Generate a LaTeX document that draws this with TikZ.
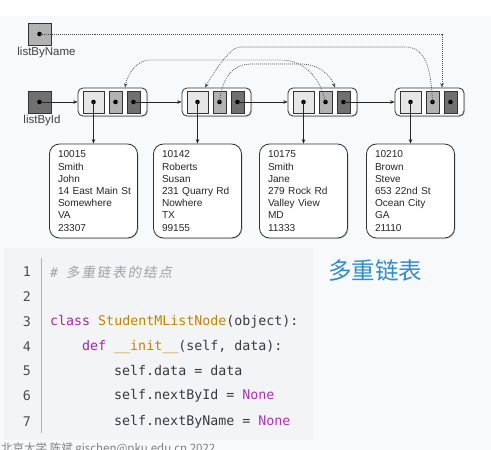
\documentclass[tikz,border=0pt]{standalone}
\usepackage{fontspec}
\setmainfont{Liberation Sans}
\newfontfamily\codefont{DejaVu Sans Mono}
\newfontfamily\cjkfont{Noto Sans CJK SC}
\newfontfamily\cjkslant[FakeSlant=0.18,LetterSpace=14]{Noto Sans CJK SC}
\usetikzlibrary{positioning,arrows.meta,shadows}

\definecolor{slidebg}{RGB}{247,249,250}
\definecolor{codebg}{RGB}{243,244,245}
\definecolor{lightcell}{RGB}{230,230,230}
\definecolor{midcell}{RGB}{178,178,178}
\definecolor{darkcell}{RGB}{112,112,112}
\definecolor{codetxt}{RGB}{56,58,66}
\definecolor{codekw}{RGB}{166,38,164}
\definecolor{codefn}{RGB}{193,132,1}
\definecolor{codecm}{RGB}{160,161,167}
\definecolor{codecst}{RGB}{180,48,180}
\definecolor{titleblue}{RGB}{52,140,202}

\tikzset{
  ptr/.style={-{Stealth[length=4.5pt,width=3.5pt]}, line width=0.5pt, black!85},
  namelink/.style={ptr, dash pattern=on 0.9pt off 1.1pt, black!70, line width=0.7pt},
  listnode/.style={rectangle, rounded corners=5pt, draw=black!80, line width=0.8pt, fill=white,
    minimum width=69pt, minimum height=28pt, inner sep=0pt,
    drop shadow={opacity=0.3, shadow xshift=1pt, shadow yshift=-1pt}},
  datacell/.style={rectangle, draw=black!80, line width=0.7pt, fill=lightcell,
    minimum width=21pt, minimum height=22pt, inner sep=0pt},
  namecell/.style={datacell, fill=midcell, minimum width=13pt},
  idcell/.style={datacell, fill=darkcell, minimum width=13pt},
  headname/.style={datacell, fill=midcell, minimum width=23pt},
  headid/.style={datacell, fill=darkcell, minimum width=23pt},
  databox/.style={rectangle, rounded corners=10pt, draw=black!80, line width=0.8pt, fill=white,
    minimum height=94pt, text width=88pt, inner xsep=0pt, align=left,
    execute at begin node={\leftskip=8.5pt\relax},
    font=\fontsize{10.1}{12.2}\selectfont, text=black!85,
    drop shadow={opacity=0.3, shadow xshift=1pt, shadow yshift=-1pt}},
  lbl/.style={font=\fontsize{11.5}{13}\selectfont, text=black!75, inner sep=0pt},
  codeline/.style={anchor=west, inner sep=0pt, font=\fontsize{13.3}{16}\codefont, text=codetxt},
  lineno/.style={anchor=east, inner sep=0pt, font=\fontsize{13.3}{16}\codefont, text=black!70},
  codesep/.style={black!30, line width=0.8pt},
  title/.style={anchor=west, inner sep=0pt, font=\fontsize{23.5}{28}\cjkfont, text=titleblue},
  footer/.style={anchor=north west, inner sep=0pt, font=\fontsize{11.5}{14}\cjkfont, text=black!50}
}

\begin{document}
\begin{tikzpicture}[x=1pt,y=-1pt]
\useasboundingbox (0,0) rectangle (491,450);

% Vẽ nền
\fill[white] (0,0) rectangle (491,16);
\fill[slidebg] (0,16) rectangle (491,450);
\fill[codebg] (4,248) rectangle (314,440);

% Vẽ hai con trỏ đầu
\node[headname] (lbn) at (39.5,34) {};
\node[lbl, below=2pt of lbn, xshift=7pt] (lbnlbl) {listByName};
\node[headid] (lbi) at (39.5,102) {};
\node[lbl, below=1.5pt of lbi, xshift=2.5pt] (lbilbl) {listById};

% Vẽ các nút của danh sách
\node[listnode] (n1) at (112.5,102) {};
\node[datacell] (n1a) at (93.5,102) {};
\node[namecell] (n1b) at (115.5,102) {};
\node[idcell] (n1c) at (133.5,102) {};

\node[listnode] (n2) at (216.5,102) {};
\node[datacell] (n2a) at (197.5,102) {};
\node[namecell] (n2b) at (219.5,102) {};
\node[idcell] (n2c) at (237.5,102) {};

\node[listnode] (n3) at (322.5,102) {};
\node[datacell] (n3a) at (303.5,102) {};
\node[namecell] (n3b) at (325.5,102) {};
\node[idcell] (n3c) at (343.5,102) {};

\node[listnode] (n4) at (429.5,102) {};
\node[datacell] (n4a) at (410.5,102) {};
\node[namecell] (n4b) at (432.5,102) {};
\node[idcell] (n4c) at (450.5,102) {};

% Vẽ các chấm con trỏ
\fill (lbn.center) circle (2.3pt);
\fill (lbi.center) circle (2.3pt);
\fill (n1a.center) circle (2.3pt); \fill (n1b.center) circle (2.3pt); \fill (n1c.center) circle (2.3pt);
\fill (n2a.center) circle (2.3pt); \fill (n2b.center) circle (2.3pt); \fill (n2c.center) circle (2.3pt);
\fill (n3a.center) circle (2.3pt); \fill (n3b.center) circle (2.3pt); \fill (n3c.center) circle (2.3pt);
\fill (n4a.center) circle (2.3pt); \fill (n4b.center) circle (2.3pt); \fill (n4c.center) circle (2.3pt);

% Vẽ các ô dữ liệu
\node[databox] (d1) at (93.5,191) {10015\\Smith\\John\\14 East Main St\\Somewhere\\VA\\23307};
\node[databox] (d2) at (197.5,191) {10142\\Roberts\\Susan\\231 Quarry Rd\\Nowhere\\TX\\99155};
\node[databox] (d3) at (303.5,191) {10175\\Smith\\Jane\\279 Rock Rd\\Valley View\\MD\\11333};
\node[databox] (d4) at (410.5,191) {10210\\Brown\\Steve\\653 22nd St\\Ocean City\\GA\\21110};

% Vẽ các con trỏ theo mã số
\draw[ptr] (lbi.center) -- (n1.west);
\draw[ptr] (n1c.center) -- (n2.west);
\draw[ptr] (n2c.center) -- (n3.west);
\draw[ptr] (n3c.center) -- (n4.west);

% Vẽ các con trỏ tới dữ liệu
\draw[ptr] (n1a.center) -- (d1.north);
\draw[ptr] (n2a.center) -- (d2.north);
\draw[ptr] (n3a.center) -- (d3.north);
\draw[ptr] (n4a.center) -- (d4.north);

% Vẽ các con trỏ theo tên (nét chấm)
\draw[namelink] (lbn.center) -| ([xshift=12.5pt]n4.north);
\draw[namelink] (n4b.center) .. controls (431,65) and (424,47) .. (405,47) -- (240,47)
  .. controls (230,47) and (214,72) .. ([xshift=-11.5pt]n2.north);
\draw[namelink] (n2b.center) .. controls (222,78) and (232,64) .. (252,64) -- (300,64)
  .. controls (318,64) and (330,74) .. ([xshift=12.5pt]n3.north);
\draw[namelink] (n3b.center) .. controls (320,78) and (305,60) .. (280,60) -- (150,60)
  .. controls (138,60) and (128,72) .. ([xshift=12.5pt]n1.north);

% Vẽ đoạn mã
\draw[codesep] (41,258) -- (41,433);
\node[lineno] (num1) at (31,272) {1};
\node[lineno] (num2) at (31,297) {2};
\node[lineno] (num3) at (31,322) {3};
\node[lineno] (num4) at (31,347) {4};
\node[lineno] (num5) at (31,371) {5};
\node[lineno] (num6) at (31,396) {6};
\node[lineno] (num7) at (31,422) {7};
\node[codeline] (c1) at (50,272) {\textcolor{codecm}{\itshape\# {\fontsize{13.5}{16}\cjkslant 多重链表的结点}}};
\node[codeline] (c3) at (50,322) {\textcolor{codekw}{class} \textcolor{codefn}{StudentMListNode}(object):};
\node[codeline] (c4) at (82,347) {\textcolor{codekw}{def} \textcolor{codefn}{\_\_init\_\_}(self, data):};
\node[codeline] (c5) at (114,371) {self.data = data};
\node[codeline] (c6) at (114,396) {self.nextById = \textcolor{codecst}{None}};
\node[codeline] (c7) at (114,422) {self.nextByName = \textcolor{codecst}{None}};

% Tiêu đề và chân trang
\node[title] (ttl) at (328,271) {多重链表};
\node[footer] (foot) at (1,443) {北京大学 陈斌 gischen@pku.edu.cn 2022};
\end{tikzpicture}
\end{document}
